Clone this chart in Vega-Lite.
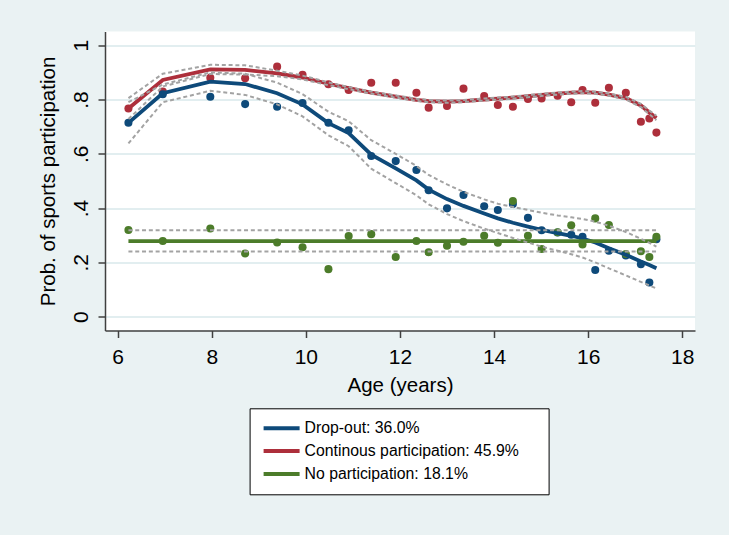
{
  "$schema": "https://vega.github.io/schema/vega-lite/v6.json",
  "autosize": {"type": "none"},
  "padding": {"left": 105, "top": 31.5, "right": 34, "bottom": 204.5},
  "width": 590,
  "height": 299,
  "background": "#eaf2f3",
  "config": {
    "view": {"stroke": null, "fill": "white"},
    "font": "Liberation Sans",
    "axisX": {
      "grid": false,
      "labelFontSize": 21,
      "labelPadding": 9,
      "labelFlush": false,
      "tickSize": 7,
      "titleFontSize": 20.5,
      "titlePadding": 8,
      "labelColor": "black",
      "titleColor": "black",
      "titleFontWeight": "normal",
      "domainColor": "#404040",
      "tickColor": "#404040",
      "domainWidth": 1.5,
      "tickWidth": 1.5
    },
    "axisY": {
      "grid": true,
      "gridColor": "#e2eef0",
      "gridWidth": 2,
      "labelAngle": -90,
      "labelAlign": "center",
      "labelBaseline": "bottom",
      "labelFontSize": 21,
      "labelPadding": 7,
      "labelFlush": false,
      "tickSize": 7,
      "titleFontSize": 20.5,
      "titlePadding": 12,
      "labelColor": "black",
      "titleColor": "black",
      "titleFontWeight": "normal",
      "domainColor": "#404040",
      "tickColor": "#404040",
      "domainWidth": 1.5,
      "tickWidth": 1.5
    }
  },
  "datasets": {
    "pts": [
      {"group": "Continous participation: 45.9%", "age": 6.23, "prob": 0.767},
      {"group": "Continous participation: 45.9%", "age": 6.96, "prob": 0.829},
      {"group": "Continous participation: 45.9%", "age": 7.97, "prob": 0.880},
      {"group": "Continous participation: 45.9%", "age": 8.71, "prob": 0.878},
      {"group": "Continous participation: 45.9%", "age": 9.39, "prob": 0.921},
      {"group": "Continous participation: 45.9%", "age": 9.93, "prob": 0.891},
      {"group": "Continous participation: 45.9%", "age": 10.48, "prob": 0.856},
      {"group": "Continous participation: 45.9%", "age": 10.91, "prob": 0.835},
      {"group": "Continous participation: 45.9%", "age": 11.39, "prob": 0.862},
      {"group": "Continous participation: 45.9%", "age": 11.91, "prob": 0.862},
      {"group": "Continous participation: 45.9%", "age": 12.35, "prob": 0.825},
      {"group": "Continous participation: 45.9%", "age": 12.61, "prob": 0.770},
      {"group": "Continous participation: 45.9%", "age": 13.00, "prob": 0.776},
      {"group": "Continous participation: 45.9%", "age": 13.35, "prob": 0.840},
      {"group": "Continous participation: 45.9%", "age": 13.79, "prob": 0.813},
      {"group": "Continous participation: 45.9%", "age": 14.08, "prob": 0.780},
      {"group": "Continous participation: 45.9%", "age": 14.40, "prob": 0.773},
      {"group": "Continous participation: 45.9%", "age": 14.72, "prob": 0.802},
      {"group": "Continous participation: 45.9%", "age": 15.01, "prob": 0.804},
      {"group": "Continous participation: 45.9%", "age": 15.35, "prob": 0.814},
      {"group": "Continous participation: 45.9%", "age": 15.64, "prob": 0.790},
      {"group": "Continous participation: 45.9%", "age": 15.88, "prob": 0.835},
      {"group": "Continous participation: 45.9%", "age": 16.15, "prob": 0.788},
      {"group": "Continous participation: 45.9%", "age": 16.44, "prob": 0.843},
      {"group": "Continous participation: 45.9%", "age": 16.80, "prob": 0.825},
      {"group": "Continous participation: 45.9%", "age": 17.12, "prob": 0.718},
      {"group": "Continous participation: 45.9%", "age": 17.30, "prob": 0.730},
      {"group": "Continous participation: 45.9%", "age": 17.45, "prob": 0.678},
      {"group": "Drop-out: 36.0%", "age": 6.23, "prob": 0.714},
      {"group": "Drop-out: 36.0%", "age": 6.96, "prob": 0.819},
      {"group": "Drop-out: 36.0%", "age": 7.97, "prob": 0.810},
      {"group": "Drop-out: 36.0%", "age": 8.71, "prob": 0.783},
      {"group": "Drop-out: 36.0%", "age": 9.39, "prob": 0.773},
      {"group": "Drop-out: 36.0%", "age": 9.93, "prob": 0.787},
      {"group": "Drop-out: 36.0%", "age": 10.48, "prob": 0.714},
      {"group": "Drop-out: 36.0%", "age": 10.91, "prob": 0.687},
      {"group": "Drop-out: 36.0%", "age": 11.39, "prob": 0.592},
      {"group": "Drop-out: 36.0%", "age": 11.91, "prob": 0.573},
      {"group": "Drop-out: 36.0%", "age": 12.35, "prob": 0.540},
      {"group": "Drop-out: 36.0%", "age": 12.61, "prob": 0.466},
      {"group": "Drop-out: 36.0%", "age": 13.00, "prob": 0.399},
      {"group": "Drop-out: 36.0%", "age": 13.35, "prob": 0.448},
      {"group": "Drop-out: 36.0%", "age": 13.79, "prob": 0.407},
      {"group": "Drop-out: 36.0%", "age": 14.08, "prob": 0.393},
      {"group": "Drop-out: 36.0%", "age": 14.40, "prob": 0.415},
      {"group": "Drop-out: 36.0%", "age": 14.72, "prob": 0.364},
      {"group": "Drop-out: 36.0%", "age": 15.01, "prob": 0.318},
      {"group": "Drop-out: 36.0%", "age": 15.35, "prob": 0.310},
      {"group": "Drop-out: 36.0%", "age": 15.64, "prob": 0.302},
      {"group": "Drop-out: 36.0%", "age": 15.88, "prob": 0.294},
      {"group": "Drop-out: 36.0%", "age": 16.15, "prob": 0.172},
      {"group": "Drop-out: 36.0%", "age": 16.44, "prob": 0.243},
      {"group": "Drop-out: 36.0%", "age": 16.80, "prob": 0.225},
      {"group": "Drop-out: 36.0%", "age": 17.12, "prob": 0.193},
      {"group": "Drop-out: 36.0%", "age": 17.30, "prob": 0.126},
      {"group": "Drop-out: 36.0%", "age": 17.45, "prob": 0.285},
      {"group": "No participation: 18.1%", "age": 6.23, "prob": 0.319},
      {"group": "No participation: 18.1%", "age": 6.96, "prob": 0.279},
      {"group": "No participation: 18.1%", "age": 7.97, "prob": 0.325},
      {"group": "No participation: 18.1%", "age": 8.71, "prob": 0.233},
      {"group": "No participation: 18.1%", "age": 9.39, "prob": 0.273},
      {"group": "No participation: 18.1%", "age": 9.93, "prob": 0.256},
      {"group": "No participation: 18.1%", "age": 10.48, "prob": 0.175},
      {"group": "No participation: 18.1%", "age": 10.91, "prob": 0.297},
      {"group": "No participation: 18.1%", "age": 11.39, "prob": 0.304},
      {"group": "No participation: 18.1%", "age": 11.91, "prob": 0.220},
      {"group": "No participation: 18.1%", "age": 12.35, "prob": 0.279},
      {"group": "No participation: 18.1%", "age": 12.61, "prob": 0.237},
      {"group": "No participation: 18.1%", "age": 13.00, "prob": 0.261},
      {"group": "No participation: 18.1%", "age": 13.35, "prob": 0.276},
      {"group": "No participation: 18.1%", "age": 13.79, "prob": 0.298},
      {"group": "No participation: 18.1%", "age": 14.08, "prob": 0.272},
      {"group": "No participation: 18.1%", "age": 14.40, "prob": 0.426},
      {"group": "No participation: 18.1%", "age": 14.72, "prob": 0.298},
      {"group": "No participation: 18.1%", "age": 15.01, "prob": 0.249},
      {"group": "No participation: 18.1%", "age": 15.35, "prob": 0.311},
      {"group": "No participation: 18.1%", "age": 15.64, "prob": 0.337},
      {"group": "No participation: 18.1%", "age": 15.88, "prob": 0.266},
      {"group": "No participation: 18.1%", "age": 16.15, "prob": 0.362},
      {"group": "No participation: 18.1%", "age": 16.44, "prob": 0.338},
      {"group": "No participation: 18.1%", "age": 16.80, "prob": 0.231},
      {"group": "No participation: 18.1%", "age": 17.12, "prob": 0.241},
      {"group": "No participation: 18.1%", "age": 17.30, "prob": 0.220},
      {"group": "No participation: 18.1%", "age": 17.45, "prob": 0.294}
    ],
    "fit": [
      {"group": "Drop-out: 36.0%", "age": 6.23, "fit": 0.714, "hi": 0.790, "lo": 0.638},
      {"group": "Drop-out: 36.0%", "age": 6.96, "fit": 0.823, "hi": 0.855, "lo": 0.790},
      {"group": "Drop-out: 36.0%", "age": 7.97, "fit": 0.866, "hi": 0.900, "lo": 0.832},
      {"group": "Drop-out: 36.0%", "age": 8.71, "fit": 0.857, "hi": 0.895, "lo": 0.817},
      {"group": "Drop-out: 36.0%", "age": 9.39, "fit": 0.823, "hi": 0.862, "lo": 0.782},
      {"group": "Drop-out: 36.0%", "age": 9.93, "fit": 0.782, "hi": 0.820, "lo": 0.738},
      {"group": "Drop-out: 36.0%", "age": 10.48, "fit": 0.713, "hi": 0.755, "lo": 0.668},
      {"group": "Drop-out: 36.0%", "age": 10.91, "fit": 0.676, "hi": 0.720, "lo": 0.628},
      {"group": "Drop-out: 36.0%", "age": 11.39, "fit": 0.597, "hi": 0.650, "lo": 0.545},
      {"group": "Drop-out: 36.0%", "age": 11.91, "fit": 0.546, "hi": 0.600, "lo": 0.492},
      {"group": "Drop-out: 36.0%", "age": 12.35, "fit": 0.502, "hi": 0.555, "lo": 0.447},
      {"group": "Drop-out: 36.0%", "age": 12.61, "fit": 0.468, "hi": 0.522, "lo": 0.414},
      {"group": "Drop-out: 36.0%", "age": 13.00, "fit": 0.433, "hi": 0.487, "lo": 0.378},
      {"group": "Drop-out: 36.0%", "age": 13.35, "fit": 0.408, "hi": 0.460, "lo": 0.352},
      {"group": "Drop-out: 36.0%", "age": 13.79, "fit": 0.380, "hi": 0.432, "lo": 0.324},
      {"group": "Drop-out: 36.0%", "age": 14.08, "fit": 0.362, "hi": 0.416, "lo": 0.308},
      {"group": "Drop-out: 36.0%", "age": 14.40, "fit": 0.346, "hi": 0.404, "lo": 0.290},
      {"group": "Drop-out: 36.0%", "age": 14.72, "fit": 0.332, "hi": 0.393, "lo": 0.273},
      {"group": "Drop-out: 36.0%", "age": 15.01, "fit": 0.320, "hi": 0.383, "lo": 0.258},
      {"group": "Drop-out: 36.0%", "age": 15.35, "fit": 0.308, "hi": 0.373, "lo": 0.243},
      {"group": "Drop-out: 36.0%", "age": 15.64, "fit": 0.298, "hi": 0.366, "lo": 0.230},
      {"group": "Drop-out: 36.0%", "age": 15.88, "fit": 0.288, "hi": 0.360, "lo": 0.218},
      {"group": "Drop-out: 36.0%", "age": 16.15, "fit": 0.273, "hi": 0.350, "lo": 0.200},
      {"group": "Drop-out: 36.0%", "age": 16.44, "fit": 0.252, "hi": 0.335, "lo": 0.178},
      {"group": "Drop-out: 36.0%", "age": 16.80, "fit": 0.228, "hi": 0.312, "lo": 0.152},
      {"group": "Drop-out: 36.0%", "age": 17.12, "fit": 0.203, "hi": 0.287, "lo": 0.128},
      {"group": "Drop-out: 36.0%", "age": 17.30, "fit": 0.190, "hi": 0.272, "lo": 0.115},
      {"group": "Drop-out: 36.0%", "age": 17.45, "fit": 0.178, "hi": 0.258, "lo": 0.104},
      {"group": "Continous participation: 45.9%", "age": 6.23, "fit": 0.767, "hi": 0.805, "lo": 0.728},
      {"group": "Continous participation: 45.9%", "age": 6.96, "fit": 0.872, "hi": 0.895, "lo": 0.848},
      {"group": "Continous participation: 45.9%", "age": 7.97, "fit": 0.911, "hi": 0.928, "lo": 0.894},
      {"group": "Continous participation: 45.9%", "age": 8.71, "fit": 0.909, "hi": 0.926, "lo": 0.892},
      {"group": "Continous participation: 45.9%", "age": 9.39, "fit": 0.896, "hi": 0.906, "lo": 0.886},
      {"group": "Continous participation: 45.9%", "age": 9.93, "fit": 0.881, "hi": 0.888, "lo": 0.874},
      {"group": "Continous participation: 45.9%", "age": 10.48, "fit": 0.858, "hi": 0.863, "lo": 0.853},
      {"group": "Continous participation: 45.9%", "age": 10.91, "fit": 0.842, "hi": 0.846, "lo": 0.838},
      {"group": "Continous participation: 45.9%", "age": 11.39, "fit": 0.825, "hi": 0.829, "lo": 0.821},
      {"group": "Continous participation: 45.9%", "age": 11.91, "fit": 0.811, "hi": 0.815, "lo": 0.807},
      {"group": "Continous participation: 45.9%", "age": 12.35, "fit": 0.799, "hi": 0.803, "lo": 0.795},
      {"group": "Continous participation: 45.9%", "age": 12.61, "fit": 0.794, "hi": 0.798, "lo": 0.790},
      {"group": "Continous participation: 45.9%", "age": 13.00, "fit": 0.792, "hi": 0.796, "lo": 0.788},
      {"group": "Continous participation: 45.9%", "age": 13.35, "fit": 0.794, "hi": 0.798, "lo": 0.790},
      {"group": "Continous participation: 45.9%", "age": 13.79, "fit": 0.800, "hi": 0.804, "lo": 0.796},
      {"group": "Continous participation: 45.9%", "age": 14.08, "fit": 0.803, "hi": 0.807, "lo": 0.799},
      {"group": "Continous participation: 45.9%", "age": 14.40, "fit": 0.807, "hi": 0.811, "lo": 0.803},
      {"group": "Continous participation: 45.9%", "age": 14.72, "fit": 0.812, "hi": 0.816, "lo": 0.808},
      {"group": "Continous participation: 45.9%", "age": 15.01, "fit": 0.817, "hi": 0.821, "lo": 0.813},
      {"group": "Continous participation: 45.9%", "age": 15.35, "fit": 0.822, "hi": 0.826, "lo": 0.818},
      {"group": "Continous participation: 45.9%", "age": 15.64, "fit": 0.825, "hi": 0.829, "lo": 0.821},
      {"group": "Continous participation: 45.9%", "age": 15.88, "fit": 0.827, "hi": 0.831, "lo": 0.823},
      {"group": "Continous participation: 45.9%", "age": 16.15, "fit": 0.825, "hi": 0.829, "lo": 0.821},
      {"group": "Continous participation: 45.9%", "age": 16.44, "fit": 0.818, "hi": 0.822, "lo": 0.814},
      {"group": "Continous participation: 45.9%", "age": 16.80, "fit": 0.805, "hi": 0.810, "lo": 0.800},
      {"group": "Continous participation: 45.9%", "age": 17.12, "fit": 0.778, "hi": 0.784, "lo": 0.772},
      {"group": "Continous participation: 45.9%", "age": 17.30, "fit": 0.752, "hi": 0.759, "lo": 0.745},
      {"group": "Continous participation: 45.9%", "age": 17.45, "fit": 0.732, "hi": 0.740, "lo": 0.724},
      {"group": "No participation: 18.1%", "age": 6.23, "fit": 0.278, "hi": 0.318, "lo": 0.240},
      {"group": "No participation: 18.1%", "age": 17.45, "fit": 0.278, "hi": 0.318, "lo": 0.240}
    ]
  },
  "layer": [
    {
      "data": {"name": "pts"},
      "mark": {"type": "circle", "size": 65, "opacity": 1},
      "encoding": {
        "x": {"field": "age", "type": "quantitative", "title": "Age (years)",
              "scale": {"domain": [5.732, 18.27], "nice": false, "zero": false},
              "axis": {"values": [6, 8, 10, 12, 14, 16, 18]}},
        "y": {"field": "prob", "type": "quantitative", "title": "Prob. of sports participation",
              "scale": {"domain": [-0.051, 1.0505], "nice": false, "zero": false},
              "axis": {"values": [0, 0.2, 0.4, 0.6, 0.8, 1],
                       "labelExpr": "datum.value == 0 ? '0' : datum.value == 1 ? '1' : '.' + round(datum.value * 10)"}},
        "fill": {"field": "group", "type": "nominal",
                  "scale": {"domain": ["Drop-out: 36.0%", "Continous participation: 45.9%", "No participation: 18.1%"],
                            "range": ["#0e4a7a", "#ad2f3b", "#4c7c2a"]}}
      }
    },
    {
      "data": {"name": "fit"},
      "mark": {"type": "line", "strokeWidth": 3.8},
      "encoding": {
        "x": {"field": "age", "type": "quantitative", "title": "Age (years)"},
        "y": {"field": "fit", "type": "quantitative", "title": "Prob. of sports participation"},
        "stroke": {"field": "group", "type": "nominal",
                  "scale": {"domain": ["Drop-out: 36.0%", "Continous participation: 45.9%", "No participation: 18.1%"],
                            "range": ["#0e4a7a", "#ad2f3b", "#4c7c2a"]},
                  "legend": {
                    "orient": "none", "legendX": 144.6, "legendY": 376.8,
                    "title": null, "direction": "vertical",
                    "fillColor": "white", "strokeColor": "black",
                    "padding": 12,
                    "symbolType": "M-1,0H5", "symbolSize": 144, "symbolStrokeWidth": 4,
                    "labelOffset": 27, "labelFontSize": 15.8, "labelColor": "black",
                    "labelFont": "Liberation Sans", "labelLimit": 500,
                    "rowPadding": 6.8,
                    "labelExpr": "datum.label + '\u00a0\u00a0\u00a0\u00a0\u200b'"
                  }}
      }
    },
    {
      "data": {"name": "fit"},
      "mark": {"type": "line", "stroke": "#a3a3a3", "strokeWidth": 2, "strokeDash": [4, 2.8]},
      "encoding": {
        "x": {"field": "age", "type": "quantitative", "title": "Age (years)"},
        "y": {"field": "hi", "type": "quantitative", "title": "Prob. of sports participation"},
        "detail": {"field": "group", "type": "nominal"}
      }
    },
    {
      "data": {"name": "fit"},
      "mark": {"type": "line", "stroke": "#a3a3a3", "strokeWidth": 2, "strokeDash": [4, 2.8]},
      "encoding": {
        "x": {"field": "age", "type": "quantitative", "title": "Age (years)"},
        "y": {"field": "lo", "type": "quantitative", "title": "Prob. of sports participation"},
        "detail": {"field": "group", "type": "nominal"}
      }
    }
  ]
}
